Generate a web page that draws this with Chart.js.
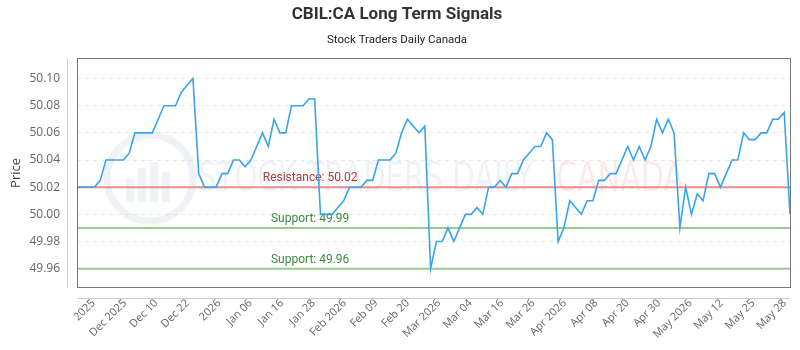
<!DOCTYPE html>
<html>
<head>
<meta charset="utf-8">
<script src="https://cdn.jsdelivr.net/npm/chart.js@4.4.1/dist/chart.umd.min.js"></script>
<style>
  body { margin: 0; background: #fff; }
  #wrap { width: 800px; height: 350px; }
</style>
</head>
<body>
<div id="wrap"><canvas id="chart"></canvas></div>
<script>
// daily closes
var prices = [
  50.02, 50.02, 50.02, 50.02, 50.025, 50.04, 50.04, 50.04, 50.04, 50.045,
  50.06, 50.06, 50.06, 50.06, 50.07, 50.08, 50.08, 50.08, 50.09, 50.095,
  50.10, 50.03, 50.02, 50.02, 50.02, 50.03, 50.03, 50.04, 50.04, 50.035,
  50.04, 50.05, 50.06, 50.05, 50.07, 50.06, 50.06, 50.08, 50.08, 50.08,
  50.085, 50.085, 50.00, 50.00, 50.00, 50.005, 50.01, 50.02, 50.02, 50.02,
  50.025, 50.025, 50.04, 50.04, 50.04, 50.045, 50.06, 50.07, 50.065, 50.06,
  50.065, 49.96, 49.98, 49.98, 49.99, 49.98, 49.99, 50.00, 50.00, 50.005,
  50.00, 50.02, 50.02, 50.025, 50.02, 50.03, 50.03, 50.04, 50.045, 50.05,
  50.05, 50.06, 50.055, 49.98, 49.99, 50.01, 50.005, 50.00, 50.01, 50.01,
  50.025, 50.025, 50.03, 50.03, 50.04, 50.05, 50.04, 50.05, 50.04, 50.05,
  50.07, 50.06, 50.07, 50.06, 49.99, 50.02, 50.00, 50.015, 50.01, 50.03,
  50.03, 50.02, 50.03, 50.04, 50.04, 50.06, 50.055, 50.055, 50.06, 50.06,
  50.07, 50.07, 50.075, 50.00
];

var tickLabels = [
  '2025', 'Dec 2025', 'Dec 10', 'Dec 22', '2026', 'Jan 06', 'Jan 16', 'Jan 28',
  'Feb 2026', 'Feb 09', 'Feb 20', 'Mar 2026', 'Mar 04', 'Mar 16', 'Mar 26',
  'Apr 2026', 'Apr 08', 'Apr 20', 'Apr 30', 'May 2026', 'May 12', 'May 25', 'May 28'
];

var resistance = [50.02];
var supports = [49.99, 49.96];

// label ticks sit a little off the data points
var tickFirst = 2.84;
var tickGap = 5.42;

var levelsPlugin = {
  id: 'levels',
  beforeDatasetsDraw: function(chart) {
    var ctx = chart.ctx;
    var a = chart.chartArea;
    var y = chart.scales.y;
    ctx.save();

    // faint watermark
    ctx.globalAlpha = 0.12;
    ctx.strokeStyle = '#7f97c0';
    ctx.fillStyle = '#7f97c0';
    ctx.lineWidth = 7;
    ctx.beginPath();
    ctx.arc(150, 178, 43, 0, Math.PI * 2);
    ctx.stroke();
    ctx.fillRect(126, 178, 8, 24);
    ctx.fillRect(138, 168, 8, 34);
    ctx.fillRect(150, 162, 8, 40);
    ctx.fillRect(162, 172, 8, 30);
    ctx.font = '40px "DejaVu Sans"';
    ctx.textBaseline = 'middle';
    ctx.textAlign = 'left';
    ctx.fillText('STOCK TRADERS DAILY', 198, 181, 335);
    ctx.fillStyle = '#e05050';
    ctx.fillText('CANADA', 556, 181, 128);
    ctx.globalAlpha = 1;

    var labelX = a.left + a.width * 0.327;
    function level(v, lineColor, textColor, text) {
      var py = y.getPixelForValue(v);
      ctx.strokeStyle = lineColor;
      ctx.lineWidth = 2;
      ctx.beginPath();
      ctx.moveTo(a.left, py);
      ctx.lineTo(a.right, py);
      ctx.stroke();
      ctx.fillStyle = textColor;
      ctx.font = '12px Roboto';
      ctx.textAlign = 'center';
      ctx.textBaseline = 'middle';
      ctx.fillText(text, labelX, py - 9);
    }
    resistance.forEach(function(v) {
      level(v, 'rgba(232,130,130,0.9)', '#b03a3a', 'Resistance: ' + v.toFixed(2));
    });
    supports.forEach(function(v) {
      level(v, 'rgba(140,200,130,0.9)', '#3a8a3a', 'Support: ' + v.toFixed(2));
    });
    ctx.restore();
  },
  afterDraw: function(chart) {
    var ctx = chart.ctx;
    var a = chart.chartArea;
    ctx.save();
    ctx.strokeStyle = '#777';
    ctx.lineWidth = 1;
    ctx.strokeRect(Math.round(a.left) + 0.5, Math.round(a.top) + 0.5,
      Math.round(a.width), Math.round(a.height));
    ctx.strokeStyle = '#ccc';
    ctx.beginPath();
    ctx.moveTo(Math.round(a.left) - 9.5, a.top);
    ctx.lineTo(Math.round(a.left) - 9.5, a.bottom);
    ctx.moveTo(a.left, Math.round(a.bottom) + 10.5);
    ctx.lineTo(a.right, Math.round(a.bottom) + 10.5);
    ctx.stroke();
    ctx.restore();
  }
};

var ctx = document.getElementById('chart').getContext('2d');
var chart = new Chart(ctx, {
  type: 'line',
  data: {
    datasets: [{
      label: 'Price',
      data: prices.map(function(p, i) { return { x: i, y: p }; }),
      borderColor: '#3aa3f0',
      borderWidth: 1.6,
      pointRadius: 0,
      tension: 0,
      fill: false
    }]
  },
  options: {
    responsive: true,
    maintainAspectRatio: false,
    animation: false,
    layout: { padding: { left: 4, right: 10, top: 0, bottom: 0 } },
    plugins: {
      legend: { display: false },
      tooltip: { enabled: false },
      title: {
        display: true,
        text: 'CBIL:CA Long Term Signals',
        color: '#333',
        font: { family: 'Roboto', size: 17, weight: 'bold' },
        padding: { top: 5, bottom: 6 }
      },
      subtitle: {
        display: true,
        text: 'Stock Traders Daily Canada',
        color: '#222',
        font: { family: 'Roboto', size: 11.5 },
        padding: { top: 2, bottom: 11 }
      }
    },
    scales: {
      x: {
        type: 'linear',
        min: 0,
        max: prices.length - 1,
        grid: { display: false, drawTicks: false },
        border: { display: false },
        afterBuildTicks: function(axis) {
          axis.ticks = tickLabels.map(function(t, j) {
            return { value: tickFirst + j * tickGap };
          });
        },
        afterFit: function(axis) {
          axis.paddingLeft = 0;
          axis.paddingRight = 0;
        },
        ticks: {
          autoSkip: false,
          maxRotation: 45,
          minRotation: 45,
          padding: 9,
          color: '#666',
          font: { family: 'Open Sans', size: 11 },
          callback: function(v, i) { return tickLabels[i]; }
        }
      },
      y: {
        min: 49.946,
        max: 50.115,
        grid: { color: '#e8e8e8', drawTicks: false },
        border: { display: false, dash: [4, 4] },
        afterFit: function(axis) {
          axis.width = 73;
        },
        title: {
          display: true,
          text: 'Price',
          color: '#444',
          font: { family: 'Open Sans', size: 13 },
          padding: { top: 4, bottom: 6 }
        },
        ticks: {
          stepSize: 0.02,
          includeBounds: false,
          padding: 17,
          color: '#666',
          font: { family: 'Open Sans', size: 12 },
          callback: function(v) { return v.toFixed(2); }
        }
      }
    }
  },
  plugins: [levelsPlugin]
});
</script>
</body>
</html>
